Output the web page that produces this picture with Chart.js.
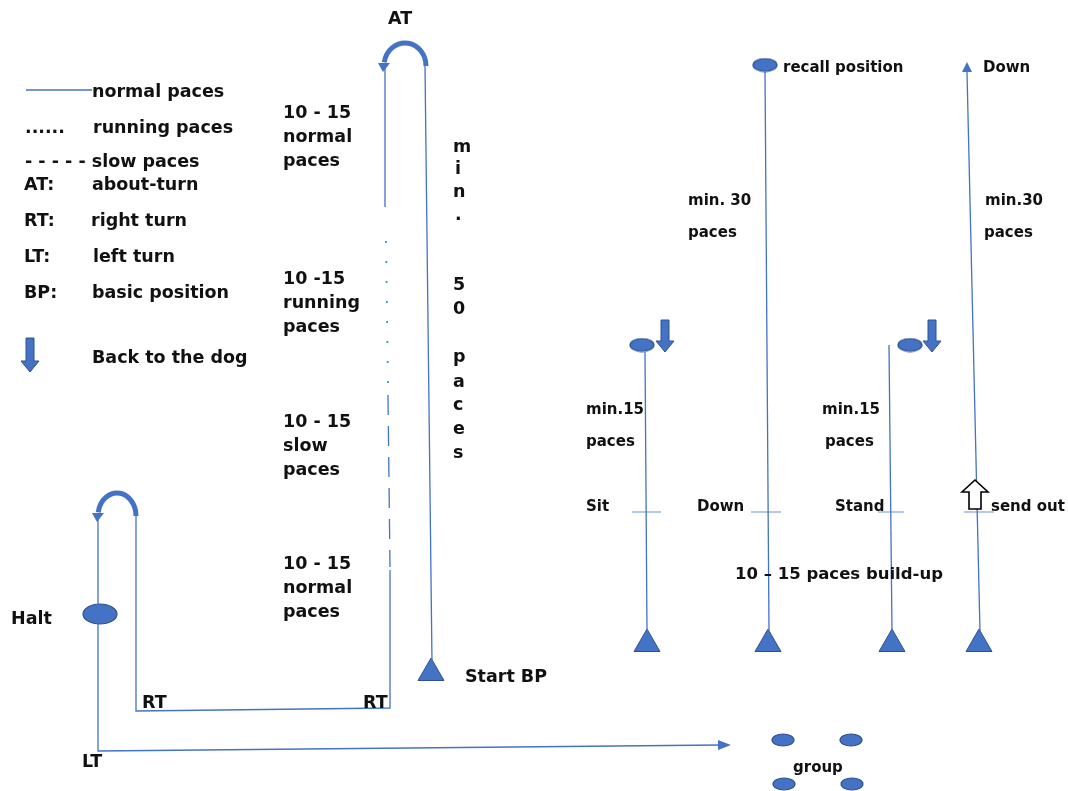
<!DOCTYPE html>
<html lang="en">
<head>
<meta charset="UTF-8"/>
<script src="https://cdn.jsdelivr.net/npm/chart.js@4.4.0/dist/chart.umd.min.js"></script>
<title>Obedience exercise plan</title>
<style>
  html, body { margin: 0; background: #fff; }
  #wrap { width: 1068px; height: 791px; }
</style>
</head>
<body>
<div id="wrap"><canvas id="chart"></canvas></div>
<script>
const BLUE = '#4472C4';
const EDGE = '#2F528F';

// heeling route, in diagram units (x right, y down)
const routeUp      = [[432, 662], [425, 66]];
const routeNormal1 = [[385, 66], [385, 207]];
const routeRunning = [[386, 241], [388, 386]];
const routeSlow    = [[388, 395], [390, 567]];
const routeNormal2 = [[390, 570], [390, 708], [136, 711], [136, 514]];
const routeHalt    = [[98, 514], [98, 751], [720, 745]];

// right hand exercises
const sitLine    = [[645, 352], [647, 632]];
const recallLine = [[765, 70], [769, 632]];
const standLine  = [[889, 345], [892, 632]];
const sendLine   = [[967, 72], [980, 632]];
const markLines  = [
  [[632, 512], [661, 512]],
  [[751, 512], [781, 512]],
  [[878, 512], [904, 512]],
  [[964, 512], [994, 512]]
];
const legendLine = [[26, 90], [92, 90]];

// markers
const startPoints = [[647, 644], [768, 644], [892, 644], [979, 644], [431, 673]];
const haltPoint   = [[100, 614]];
const dogPoints   = [[765, 65], [642, 345], [910, 345]];
const groupPoints = [[783, 740], [851, 740], [784, 784], [852, 784]];

// arrows: [x, yTop, yBottom]
const backArrows = [[30, 338, 372], [665, 320, 352], [932, 320, 352]];
const sendArrow  = [975, 480, 509];
// about turns: [centre x, centre y, rx, ry]
const aboutTurns = [[405, 66, 21, 23], [117, 516, 19, 23]];

// texts: [text, x, y]
const routeLabels = [
  ['normal paces', 92, 90], ['......', 25, 126], ['running paces', 93, 126],
  ['- - - - - slow paces', 25, 160],
  ['AT:', 24, 183], ['about-turn', 92, 183],
  ['RT:', 24, 219], ['right turn', 91, 219],
  ['LT:', 24, 255], ['left turn', 93, 255],
  ['BP:', 24, 291], ['basic position', 92, 291],
  ['Back to the dog', 92, 356],
  ['AT', 388, 17],
  ['10 - 15', 283, 111], ['normal', 283, 135], ['paces', 283, 159],
  ['10 -15', 283, 277], ['running', 283, 301], ['paces', 283, 325],
  ['10 - 15', 283, 420], ['slow', 283, 444], ['paces', 283, 468],
  ['10 - 15', 283, 562], ['normal', 283, 586], ['paces', 283, 610],
  ['m', 453, 145], ['i', 455, 167], ['n', 453, 190], ['.', 455, 213],
  ['5', 453, 283], ['0', 453, 307],
  ['p', 453, 355], ['a', 453, 380], ['c', 453, 403], ['e', 453, 427], ['s', 453, 451],
  ['Start BP', 465, 675], ['RT', 142, 701], ['RT', 363, 701], ['LT', 82, 760], ['Halt', 11, 617]
];
const exerciseLabels = [
  ['recall position', 783, 66], ['Down', 983, 66],
  ['min. 30', 688, 199], ['paces', 688, 231], ['min.30', 985, 199], ['paces', 984, 231],
  ['min.15', 586, 408], ['paces', 586, 440], ['min.15', 822, 408], ['paces', 825, 440],
  ['Sit', 586, 505], ['Down', 697, 505], ['Stand', 835, 505], ['send out', 991, 505],
  ['group', 793, 766]
];
const buildUpLabel = ['10 \u2013 15 paces build-up', 735, 572];

function pts(a) { return a.map(p => ({ x: p[0], y: p[1] })); }

function ellipse(w, h) {
  const c = document.createElement('canvas');
  c.width = w + 2; c.height = h + 2;
  const g = c.getContext('2d');
  g.beginPath();
  g.ellipse(c.width / 2, c.height / 2, w / 2, h / 2, 0, 0, Math.PI * 2);
  g.fillStyle = BLUE; g.fill();
  g.lineWidth = 1.2; g.strokeStyle = EDGE; g.stroke();
  return c;
}

function line(data, extra) {
  return Object.assign({
    data: pts(data), showLine: true, pointRadius: 0, borderColor: BLUE,
    borderWidth: 1.3, fill: false, clip: false
  }, extra || {});
}

const datasets = [
  line(routeUp), line(routeNormal1),
  line(routeRunning, { borderColor: '#2E9DB8', borderWidth: 1.8, borderDash: [2, 18] }),
  line(routeSlow, { borderDash: [20, 11] }),
  line(routeNormal2), line(routeHalt),
  line(sitLine), line(recallLine), line(standLine), line(sendLine), line(legendLine)
];
markLines.forEach(m => datasets.push(line(m, { borderColor: '#8EA9DB' })));
datasets.push({
  data: pts(startPoints), pointStyle: 'triangle', pointRadius: 15,
  backgroundColor: BLUE, borderColor: EDGE, borderWidth: 1, clip: false
});
datasets.push({ data: pts(haltPoint), pointStyle: ellipse(34, 20), clip: false });
datasets.push({ data: pts(dogPoints), pointStyle: ellipse(24, 13), clip: false });
datasets.push({ data: pts(groupPoints), pointStyle: ellipse(22, 12), clip: false });

const extras = {
  id: 'extras',
  afterDatasetsDraw(chart) {
    const c = chart.ctx, sx = chart.scales.x, sy = chart.scales.y;
    const X = v => sx.getPixelForValue(v), Y = v => sy.getPixelForValue(v);
    c.save();
    // back to the dog arrows
    backArrows.forEach(a => {
      const x = X(a[0]), t = Y(a[1]), b = Y(a[2]), head = 11;
      c.beginPath();
      c.moveTo(x - 4, t); c.lineTo(x + 4, t); c.lineTo(x + 4, b - head);
      c.lineTo(x + 9, b - head); c.lineTo(x, b); c.lineTo(x - 9, b - head);
      c.lineTo(x - 4, b - head); c.closePath();
      c.fillStyle = BLUE; c.fill(); c.strokeStyle = EDGE; c.lineWidth = 1; c.stroke();
    });
    // send out hollow arrow
    {
      const x = X(sendArrow[0]), t = Y(sendArrow[1]), b = Y(sendArrow[2]);
      c.beginPath();
      c.moveTo(x, t); c.lineTo(x + 13, t + 12); c.lineTo(x + 6, t + 12); c.lineTo(x + 6, b);
      c.lineTo(x - 6, b); c.lineTo(x - 6, t + 12); c.lineTo(x - 13, t + 12); c.closePath();
      c.fillStyle = '#fff'; c.fill(); c.strokeStyle = '#000'; c.lineWidth = 1.6; c.stroke();
    }
    // small arrow heads
    c.fillStyle = BLUE;
    c.beginPath();
    c.moveTo(X(967), Y(62)); c.lineTo(X(972), Y(72)); c.lineTo(X(962), Y(72)); c.closePath(); c.fill();
    c.beginPath();
    c.moveTo(X(731), Y(745)); c.lineTo(X(718), Y(740)); c.lineTo(X(718), Y(750)); c.closePath(); c.fill();
    // about turns
    aboutTurns.forEach(a => {
      const cx = X(a[0]), cy = Y(a[1]);
      c.beginPath();
      c.ellipse(cx, cy, a[2], a[3], 0, Math.PI * 1.05, Math.PI * 2, false);
      c.strokeStyle = BLUE; c.lineWidth = 5; c.stroke();
      const lx = cx - a[2];
      c.beginPath();
      c.moveTo(lx - 6, cy - 3); c.lineTo(lx + 6, cy - 3); c.lineTo(lx - 1, cy + 6); c.closePath();
      c.fillStyle = BLUE; c.fill();
    });
    // texts
    c.fillStyle = '#111';
    c.textBaseline = 'middle';
    const write = (list, size) => {
      c.font = 'bold ' + size + 'px "DejaVu Sans", Verdana, sans-serif';
      list.forEach(l => c.fillText(l[0], X(l[1]), Y(l[2]) + 2.5));
    };
    write(routeLabels, 17.5);
    write(exerciseLabels, 15);
    write([buildUpLabel], 16.5);
    c.restore();
  }
};

new Chart(document.getElementById('chart'), {
  type: 'scatter',
  data: { datasets },
  options: {
    responsive: true, maintainAspectRatio: false, animation: false,
    layout: { padding: 0, autoPadding: false },
    plugins: { legend: { display: false }, tooltip: { enabled: false } },
    scales: {
      x: { type: 'linear', min: 0, max: 1068, display: false },
      y: { type: 'linear', min: 0, max: 791, reverse: true, display: false }
    }
  },
  plugins: [extras]
});
</script>
</body>
</html>
